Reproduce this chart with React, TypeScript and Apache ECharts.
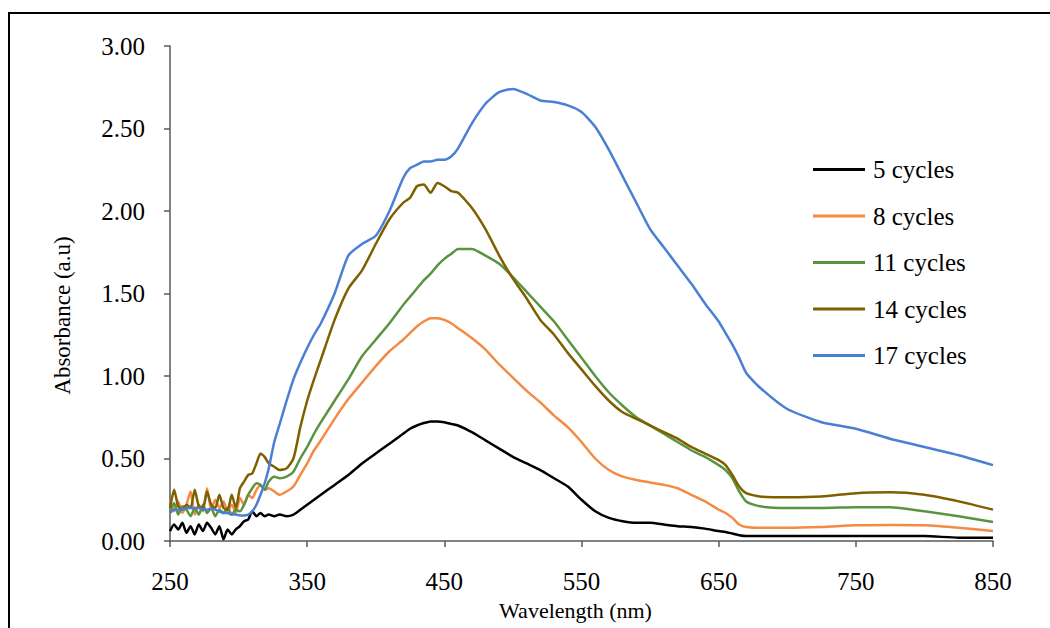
import React, { useEffect, useRef } from "react";
import * as echarts from "echarts";

const wavelengths = [
  250, 253, 256, 259, 262, 265, 268, 271, 274, 277, 280, 283, 286, 289, 292, 295, 298, 301, 304, 307, 310, 313, 316, 319, 322,
  326, 330, 335, 340, 345, 350, 355, 360, 370, 380, 390, 400, 410, 420, 425, 430, 435, 440, 445, 450, 455, 460,
  470, 480, 490, 500, 510, 520, 530, 540, 550, 560, 570, 580, 590, 600, 610, 620, 630, 640, 650,
  655, 660, 665, 670, 680, 700, 725, 750, 775, 800, 825, 850,
];

const cycles5 = [
  0.06, 0.10, 0.07, 0.11, 0.05, 0.09, 0.04, 0.10, 0.06, 0.11, 0.08, 0.04, 0.09, 0.01, 0.07, 0.04, 0.07, 0.09, 0.12, 0.13, 0.18, 0.15, 0.17, 0.15, 0.16,
  0.15, 0.16, 0.15, 0.16, 0.19, 0.22, 0.25, 0.28, 0.34, 0.40, 0.47, 0.53, 0.59, 0.65, 0.68, 0.70, 0.715, 0.725, 0.725, 0.72, 0.71, 0.70,
  0.66, 0.61, 0.56, 0.51, 0.47, 0.43, 0.38, 0.33, 0.25, 0.18, 0.14, 0.12, 0.11, 0.11, 0.10, 0.09, 0.085, 0.075, 0.06,
  0.055, 0.045, 0.035, 0.03, 0.03, 0.03, 0.03, 0.03, 0.03, 0.03, 0.02, 0.02,
];

const cycles8 = [
  0.25, 0.18, 0.24, 0.17, 0.22, 0.30, 0.16, 0.22, 0.18, 0.32, 0.19, 0.25, 0.20, 0.24, 0.18, 0.22, 0.17, 0.26, 0.22, 0.28, 0.26, 0.31, 0.34, 0.31, 0.32,
  0.30, 0.28, 0.30, 0.33, 0.40, 0.47, 0.55, 0.61, 0.74, 0.86, 0.96, 1.06, 1.15, 1.22, 1.26, 1.30, 1.33, 1.35, 1.35, 1.34, 1.32, 1.29,
  1.23, 1.16, 1.07, 0.99, 0.91, 0.84, 0.76, 0.69, 0.60, 0.50, 0.43, 0.39, 0.37, 0.355, 0.34, 0.32, 0.28, 0.24, 0.19,
  0.17, 0.14, 0.10, 0.085, 0.08, 0.08, 0.085, 0.095, 0.097, 0.095, 0.08, 0.06,
];

const cycles11 = [
  0.17, 0.23, 0.16, 0.21, 0.19, 0.15, 0.20, 0.16, 0.22, 0.17, 0.20, 0.15, 0.19, 0.17, 0.20, 0.16, 0.19, 0.18, 0.22, 0.28, 0.32, 0.35, 0.34, 0.31, 0.36,
  0.39, 0.38, 0.39, 0.42, 0.50, 0.57, 0.65, 0.72, 0.85, 0.98, 1.12, 1.22, 1.32, 1.43, 1.48, 1.53, 1.58, 1.62, 1.67, 1.71, 1.74, 1.77,
  1.77, 1.73, 1.68, 1.60, 1.51, 1.42, 1.33, 1.22, 1.11, 1.00, 0.90, 0.82, 0.75, 0.70, 0.65, 0.60, 0.55, 0.51, 0.46,
  0.43, 0.38, 0.30, 0.24, 0.21, 0.20, 0.20, 0.205, 0.205, 0.18, 0.15, 0.115,
];

const cycles14 = [
  0.20, 0.31, 0.21, 0.19, 0.22, 0.20, 0.31, 0.21, 0.20, 0.30, 0.22, 0.20, 0.28, 0.20, 0.19, 0.28, 0.20, 0.32, 0.36, 0.40, 0.41, 0.47, 0.53, 0.51, 0.47,
  0.45, 0.43, 0.44, 0.50, 0.69, 0.85, 0.98, 1.10, 1.34, 1.53, 1.64, 1.80, 1.95, 2.05, 2.08, 2.15, 2.16, 2.11, 2.17, 2.15, 2.12, 2.11,
  2.02, 1.89, 1.73, 1.59, 1.47, 1.34, 1.25, 1.14, 1.04, 0.94, 0.85, 0.78, 0.74, 0.70, 0.66, 0.62, 0.57, 0.53, 0.49,
  0.46, 0.40, 0.33, 0.29, 0.27, 0.265, 0.27, 0.29, 0.295, 0.28, 0.24, 0.19,
];

const cycles17 = [
  0.17, 0.19, 0.19, 0.19, 0.20, 0.20, 0.20, 0.20, 0.19, 0.19, 0.195, 0.19, 0.18, 0.17, 0.17, 0.16, 0.16, 0.155, 0.155, 0.16, 0.18, 0.22, 0.28, 0.35, 0.44,
  0.60, 0.71, 0.85, 0.98, 1.08, 1.17, 1.25, 1.32, 1.50, 1.73, 1.80, 1.85, 2.00, 2.20, 2.26, 2.28, 2.30, 2.30, 2.31, 2.31, 2.33, 2.38,
  2.53, 2.65, 2.72, 2.74, 2.71, 2.67, 2.66, 2.64, 2.60, 2.51, 2.37, 2.21, 2.05, 1.89, 1.78, 1.67, 1.56, 1.44, 1.33,
  1.26, 1.19, 1.11, 1.02, 0.93, 0.80, 0.72, 0.68, 0.62, 0.57, 0.52, 0.46,
];

const seriesNames = ["5 cycles", "8 cycles", "11 cycles", "14 cycles", "17 cycles"];
const seriesValues = [cycles5, cycles8, cycles11, cycles14, cycles17];
const seriesColors = ["#000000", "#F58A45", "#5B9440", "#7F6000", "#4A7FD4"];
const xTickLabels = [250, 350, 450, 550, 650, 750, 850];

const FONT = "Liberation Serif";

export default function App() {
  const ref = useRef<HTMLDivElement>(null);

  useEffect(() => {
    document.body.style.margin = "0";
    if (!ref.current) return;
    const chart = echarts.init(ref.current, null, { renderer: "svg" });
    chart.setOption({
      animation: false,
      backgroundColor: "#ffffff",
      textStyle: { fontFamily: FONT },
      grid: { left: 170, right: 57, top: 46, bottom: 87 },
      graphic: [
        {
          type: "rect",
          shape: { x: 9, y: 13, width: 1100, height: 700 },
          style: { fill: "none", stroke: "#000000", lineWidth: 2 },
          silent: true,
        },
      ],
      legend: {
        orient: "vertical",
        left: 808,
        top: 152,
        itemWidth: 52,
        itemHeight: 3,
        itemGap: 21.5,
        icon: "rect",
        textStyle: { fontFamily: FONT, fontSize: 25, color: "#000", padding: [0, 0, 0, 3] },
        data: seriesNames,
      },
      xAxis: {
        type: "value",
        min: 250,
        max: 850,
        interval: 50,
        name: "Wavelength (nm)",
        nameLocation: "middle",
        nameGap: 58,
        nameTextStyle: { fontFamily: FONT, fontSize: 22, color: "#000", padding: [0, 12, 0, 0] },
        axisLine: { show: true, lineStyle: { color: "#595959", width: 1.5 } },
        axisTick: { show: true, length: 6, lineStyle: { color: "#595959", width: 1.5 }, customValues: xTickLabels },
        axisLabel: { fontFamily: FONT, fontSize: 25, color: "#000", margin: 28, customValues: xTickLabels },
        splitLine: { show: false },
      },
      yAxis: {
        type: "value",
        min: 0,
        max: 3,
        interval: 0.5,
        name: "Absorbance (a.u)",
        nameLocation: "middle",
        nameGap: 96,
        nameTextStyle: { fontFamily: FONT, fontSize: 23, color: "#000", padding: [0, 44, 0, 0] },
        axisLine: { show: true, lineStyle: { color: "#595959", width: 1.5 } },
        axisTick: { show: true, length: 6, lineStyle: { color: "#595959", width: 1.5 } },
        axisLabel: {
          fontFamily: FONT,
          fontSize: 25,
          color: "#000",
          margin: 25,
          formatter: (v: number) => v.toFixed(2),
        },
        splitLine: { show: false },
      },
      series: seriesNames.map((name, i) => ({
        name,
        type: "line",
        showSymbol: false,
        symbol: "none",
        smooth: 0.2,
        data: wavelengths.map((w, j) => [w, seriesValues[i][j]]),
        lineStyle: { color: seriesColors[i], width: 2.5 },
        itemStyle: { color: seriesColors[i] },
      })),
    });
    return () => chart.dispose();
  }, []);

  return <div ref={ref} style={{ width: 1050, height: 628 }} />;
}
